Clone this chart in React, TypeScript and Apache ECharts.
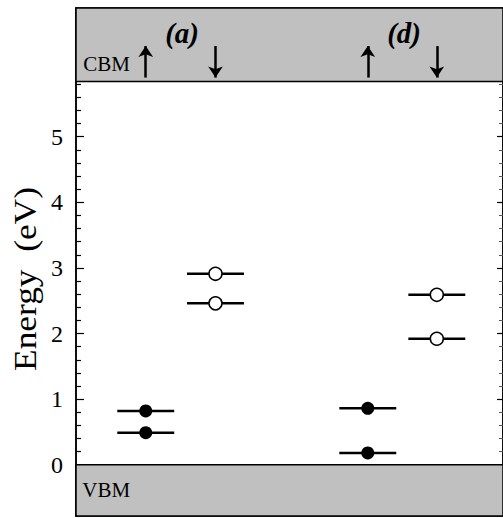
import React, { useEffect, useRef } from "react";
import * as echarts from "echarts";

// Columns: (a) spin up, (a) spin down, (d) spin up, (d) spin down
const columnNames = ["(a) up", "(a) down", "(d) up", "(d) down"];
const columnX = [0.98, 1.96, 4.1, 5.07];
const columnFilled = [true, false, true, false];
const columnSpinUp = [true, false, true, false];

// Defect levels (eV) per column
const aUp = [0.82, 0.49];
const aDown = [2.91, 2.46];
const dUp = [0.86, 0.18];
const dDown = [2.59, 1.92];
const columnLevels = [aUp, aDown, dUp, dDown];

// Panel labels
const panelLabels = ["(a)", "(d)"];
const panelLabelX = [1.49, 4.61];
const panelLabelY = 6.58;

// Band edges (eV)
const vbm = 0;
const cbm = 5.84;
const yMin = -0.78;
const yMax = 6.96;

// Spin arrows (eV)
const arrowLow = 5.9;
const arrowHigh = 6.38;

// Ticks
const yTitle = "Energy  (eV)";
const yMajorTicks = [0, 1, 2, 3, 4, 5];
const yMinorTicks = [
  0.2, 0.4, 0.6, 0.8, 1.2, 1.4, 1.6, 1.8, 2.2, 2.4, 2.6, 2.8, 3.2, 3.4, 3.6,
  3.8, 4.2, 4.4, 4.6, 4.8, 5.2, 5.4, 5.6, 5.8,
];

const levelHalfWidth = 0.4;
const serif = "'Liberation Serif', 'Times New Roman', serif";

export default function App() {
  const ref = useRef<HTMLDivElement>(null);
  useEffect(() => {
    if (!ref.current) return;
    const chart = echarts.init(ref.current, undefined, { renderer: "svg" });

    const levelSeries: any[] = [];
    columnLevels.forEach((levels, ci) => {
      levels.forEach((e, li) => {
        levelSeries.push({
          type: "line",
          name: `${columnNames[ci]} level ${li + 1}`,
          data: [
            [columnX[ci] - levelHalfWidth, e],
            [columnX[ci] + levelHalfWidth, e],
          ],
          symbol: "none",
          lineStyle: { color: "#000", width: 2.5 },
          z: 2,
        });
      });
    });

    const filledData: number[][] = [];
    const openData: number[][] = [];
    columnLevels.forEach((levels, ci) => {
      levels.forEach((e) => {
        (columnFilled[ci] ? filledData : openData).push([columnX[ci], e]);
      });
    });

    const arrowData = columnX.map((x, ci) =>
      columnSpinUp[ci]
        ? [{ coord: [x, arrowLow] }, { coord: [x, arrowHigh] }]
        : [{ coord: [x, arrowHigh] }, { coord: [x, arrowLow] }]
    );

    const bandSeries = {
      type: "line",
      name: "bands",
      data: [],
      z: 1,
      markArea: {
        silent: true,
        itemStyle: { color: "#c0c0c0", borderColor: "#000", borderWidth: 1.5 },
        label: {
          show: true,
          color: "#000",
          fontFamily: serif,
          fontSize: 21,
        },
        data: [
          [
            { name: "VBM", yAxis: yMin, label: { position: "insideLeft", distance: 7 } },
            { yAxis: vbm },
          ],
          [
            { name: "CBM", yAxis: cbm, label: { position: "insideBottomLeft", distance: 8 } },
            { yAxis: yMax },
          ],
        ],
      },
    };

    const axisBase = {
      type: "value",
      min: yMin,
      max: yMax,
      splitLine: { show: false },
    };

    chart.setOption({
      animation: false,
      backgroundColor: "#fff",
      grid: { left: 76, right: -1, top: 8, bottom: 2, show: true, borderColor: "#000", borderWidth: 1.5 },
      graphic: [
        {
          type: "text",
          x: 25,
          y: 279,
          rotation: Math.PI / 2,
          scaleX: 1.14,
          style: {
            text: yTitle,
            fill: "#000",
            font: `31px ${serif}`,
            align: "center",
            verticalAlign: "middle",
          },
        },
      ],
      xAxis: {
        type: "value",
        min: 0,
        max: 6,
        show: false,
      },
      yAxis: [
        {
          ...axisBase,
          position: "left",
          axisLine: { show: true, lineStyle: { color: "#000", width: 1.5 } },
          axisTick: { show: true, inside: true, length: 8, customValues: yMajorTicks, lineStyle: { color: "#000", width: 1.2 } },
          axisLabel: { show: true, customValues: yMajorTicks, margin: 13, color: "#000", fontFamily: serif, fontSize: 24 },
        },
        {
          ...axisBase,
          position: "left",
          axisLine: { show: false },
          axisTick: { show: true, inside: true, length: 5, customValues: yMinorTicks, lineStyle: { color: "#000", width: 1.2 } },
          axisLabel: { show: false },
        },
        {
          ...axisBase,
          position: "right",
          axisLine: { show: true, lineStyle: { color: "#000", width: 1.5 } },
          axisTick: { show: true, inside: true, length: 6, customValues: yMajorTicks, lineStyle: { color: "#000", width: 1.2 } },
          axisLabel: { show: false },
        },
        {
          ...axisBase,
          position: "right",
          axisLine: { show: false },
          axisTick: { show: true, inside: true, length: 4, customValues: yMinorTicks, lineStyle: { color: "#555", width: 1 } },
          axisLabel: { show: false },
        },
      ],
      series: [
        bandSeries,
        ...levelSeries,
        {
          type: "scatter",
          name: "occupied",
          data: filledData,
          symbol: "circle",
          symbolSize: 13,
          itemStyle: { color: "#000", opacity: 1 },
          z: 4,
          markLine: {
            silent: true,
            symbol: ["none", "arrow"],
            symbolSize: 11,
            label: { show: false },
            lineStyle: { color: "#000", width: 2.5, type: "solid", opacity: 1 },
            data: arrowData,
          },
        },
        {
          type: "scatter",
          name: "unoccupied",
          data: openData,
          symbol: "circle",
          symbolSize: 13,
          itemStyle: { color: "#fff", borderColor: "#000", borderWidth: 1.5, opacity: 1 },
          z: 4,
        },
        {
          type: "scatter",
          name: "panels",
          data: panelLabelX.map((x) => [x, panelLabelY]),
          symbolSize: 0,
          itemStyle: { opacity: 1 },
          z: 5,
          label: {
            show: true,
            position: "inside",
            formatter: (p: any) => panelLabels[p.dataIndex],
            color: "#000",
            fontFamily: serif,
            fontStyle: "italic",
            fontWeight: "bold",
            fontSize: 29,
          },
        },
      ],
    });
    return () => chart.dispose();
  }, []);
  return <div ref={ref} style={{ position: "fixed", left: 0, top: 0, width: 503, height: 518 }} />;
}
